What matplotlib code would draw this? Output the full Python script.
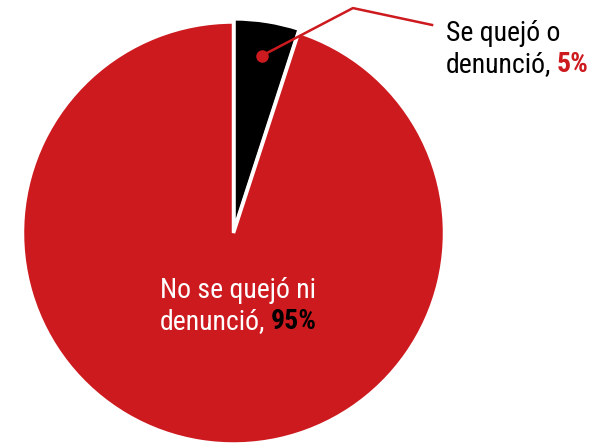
import numpy as np
import matplotlib.pyplot as plt

# data
labels = ["Se quejó o\ndenunció,", "No se quejó ni\ndenunció,"]
values = [5, 95]
pct_labels = ["5%", "95%"]
colors = ["#000000", "#cd1a1f"]

plt.rcParams['font.family'] = ['Roboto Condensed', 'Liberation Sans Narrow', 'Liberation Sans']

W, H = 609, 444
fig = plt.figure(figsize=(W / 100, H / 100), dpi=100)
# pie centre / radius in pixels
cx, cy, r = 233.5, 233, 211
ax = fig.add_axes(((cx - r) / W, (H - cy - r) / H, 2 * r / W, 2 * r / H))

ax.pie(values, colors=colors, startangle=90, counterclock=False, radius=1,
       explode=[0.015, 0], wedgeprops=dict(edgecolor='white', linewidth=2.5))
ax.set_xlim(-1, 1)
ax.set_ylim(-1, 1)
ax.set_aspect('equal')
ax.axis('off')

# annotation for the small slice
mid = np.radians(90 - values[0] / sum(values) * 360 / 2)
dx, dy = 0.85 * np.cos(mid), 0.85 * np.sin(mid)
red = colors[1]
ax.plot([dx, 0.566, 0.941], [dy, 1.066, 0.986], color=red, lw=1.8, clip_on=False)
ax.plot(dx, dy, 'o', color=red, ms=8, clip_on=False)

FS = 20


def px(x, y):
    return ((x - cx) / r, (cy - y) / r)


def two_line(x, y, text, pct, col, pcol):
    l1, l2 = text.split("\n")
    ax.text(*px(x, y), l1, color=col, fontsize=FS, ha='left', va='baseline')
    t = ax.text(*px(x, y + 31), l2, color=col, fontsize=FS, ha='left', va='baseline')
    ax.annotate(pct, xy=(1, 0), xycoords=t, xytext=(4, 0), textcoords='offset points',
                color=pcol, fontsize=FS, fontweight='heavy', ha='left', va='bottom')


two_line(446, 41, labels[0], pct_labels[0], 'black', red)
two_line(160, 298, labels[1], pct_labels[1], 'white', 'black')

fig.savefig("out.png", dpi=100)
